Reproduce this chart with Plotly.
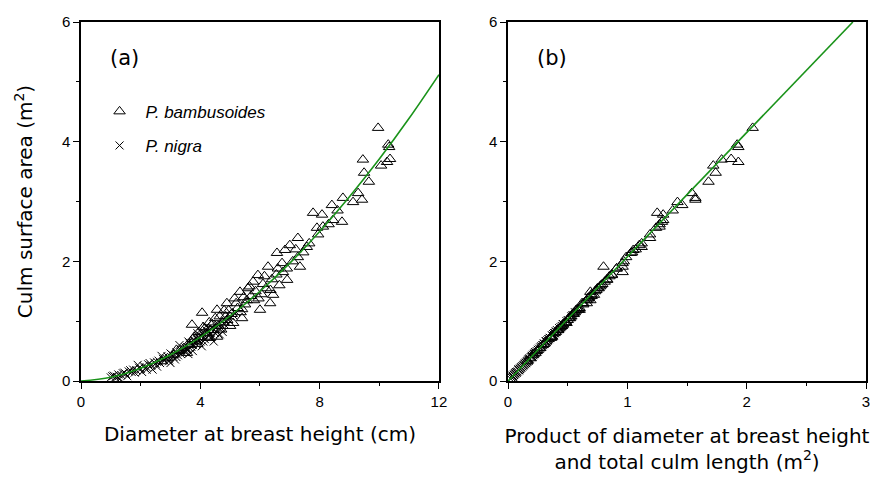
import plotly.graph_objects as go
from plotly.subplots import make_subplots

# ---------------------------------------------------------------------------
# Data
# ---------------------------------------------------------------------------
# P. bambusoides: DBH (cm), culm surface area (m2), DBH x culm length (m2)
bam_dbh = [9.96, 10.33, 10.30, 9.45, 9.49, 9.65, 10.06, 10.26, 10.36, 9.29,
           8.78, 9.12, 9.42, 7.78, 8.08, 8.41, 8.45, 8.75, 7.91, 8.11,
           7.27, 7.57, 7.00, 7.27, 7.34, 6.57, 6.84, 6.74, 6.77, 6.91,
           6.27, 5.93, 5.77, 6.44, 6.34, 6.00, 5.56, 5.33, 4.89, 4.56,
           4.06, 3.72, 5.10, 5.40, 4.32, 4.56, 3.55, 6.10, 6.20, 5.85,
           5.70, 5.50, 5.25, 5.05, 4.90, 4.75, 4.60, 4.45, 4.20, 4.00,
           3.85, 3.65, 3.45, 3.30, 3.10, 2.90, 2.70, 6.40, 6.55, 6.65,
           7.10, 7.45, 7.65, 7.95, 8.30, 8.60, 5.95, 5.60, 5.15, 4.80,
           4.30, 4.15, 3.95, 5.35, 6.05, 6.90, 7.20, 3.20, 3.75, 4.50,
           3.60, 3.80, 3.90, 4.10, 4.25, 4.40, 4.65, 4.70, 4.95, 5.00,
           5.20, 5.45, 5.65, 5.80, 6.15, 6.35, 6.60, 5.40, 4.85, 4.35]
bam_area = [4.23, 3.91, 3.95, 3.70, 3.48, 3.33, 3.60, 3.66, 3.71, 3.14,
            3.06, 2.99, 3.03, 2.81, 2.78, 2.94, 2.69, 2.66, 2.56, 2.58,
            2.39, 2.24, 2.27, 2.07, 1.91, 2.14, 2.19, 1.97, 1.82, 1.69,
            1.91, 1.77, 1.66, 1.44, 1.30, 1.19, 1.35, 1.49, 1.30, 1.19,
            1.14, 0.94, 0.97, 1.05, 0.72, 0.74, 0.47, 1.62, 1.55, 1.50,
            1.42, 1.28, 1.22, 1.12, 1.02, 0.98, 0.92, 0.85, 0.80, 0.73,
            0.66, 0.60, 0.55, 0.50, 0.44, 0.38, 0.33, 1.70, 1.78, 1.60,
            2.00, 2.15, 2.30, 2.45, 2.62, 2.85, 1.38, 1.55, 1.38, 1.18,
            0.98, 0.88, 0.82, 1.15, 1.45, 1.88, 2.20, 0.52, 0.70, 1.05,
            0.62, 0.74, 0.62, 0.90, 0.74, 0.95, 1.08, 0.86, 1.18, 0.92,
            1.30, 1.40, 1.58, 1.35, 1.75, 1.52, 1.88, 1.20, 1.08, 0.85]
bam_prod = [2.05, 1.93, 1.92, 1.79, 1.74, 1.68, 1.72, 1.93, 1.87, 1.54,
            1.57, 1.42, 1.57, 1.25, 1.30, 1.46, 1.30, 1.29, 1.24, 1.27,
            1.19, 1.12, 1.10, 0.99, 0.96, 1.03, 1.05, 0.96, 0.96, 0.83,
            0.80, 0.87, 0.81, 0.72, 0.66, 0.60, 0.69, 0.69, 0.62, 0.59,
            0.55, 0.46, 0.49, 0.52, 0.36, 0.37, 0.23, 0.79, 0.76, 0.73,
            0.70, 0.63, 0.60, 0.55, 0.50, 0.48, 0.45, 0.42, 0.39, 0.36,
            0.32, 0.29, 0.27, 0.24, 0.21, 0.19, 0.16, 0.83, 0.87, 0.78,
            0.97, 1.04, 1.12, 1.19, 1.27, 1.38, 0.67, 0.75, 0.67, 0.57,
            0.48, 0.43, 0.40, 0.56, 0.70, 0.91, 1.07, 0.25, 0.34, 0.51,
            0.30, 0.36, 0.30, 0.44, 0.36, 0.46, 0.53, 0.42, 0.57, 0.45,
            0.63, 0.68, 0.77, 0.66, 0.85, 0.74, 0.91, 0.58, 0.52, 0.41]

# P. nigra
nig_dbh = [1.00, 1.10, 1.20, 1.25, 1.35, 1.45, 1.50, 1.60, 1.70, 1.75,
           1.85, 1.95, 2.00, 2.10, 2.20, 2.25, 2.35, 2.45, 2.50, 2.60,
           2.65, 2.75, 2.80, 2.90, 2.95, 3.05, 3.10, 3.20, 3.25, 3.35,
           3.40, 3.50, 3.55, 3.65, 3.70, 3.80, 3.85, 3.95, 4.00, 4.10,
           4.15, 4.25, 4.30, 4.40, 4.50, 4.60, 4.70, 4.85, 5.00, 5.20,
           3.00, 3.60, 4.05, 4.45, 2.40, 1.90, 2.70, 3.30, 3.90, 4.20,
           1.30, 1.55, 2.05, 2.55, 3.15, 3.75, 4.35, 4.75,
           1.05, 1.15, 1.40, 1.65, 1.80, 2.15, 2.30, 2.55, 2.85, 3.00,
           3.20, 3.45, 3.50, 3.60, 3.75, 3.90, 4.00, 4.10, 4.20, 4.35,
           4.55, 4.65, 4.80, 4.95, 5.10, 3.35, 2.95, 2.20]
nig_area = [0.06, 0.09, 0.07, 0.11, 0.10, 0.14, 0.12, 0.16, 0.15, 0.19,
            0.18, 0.22, 0.20, 0.25, 0.23, 0.28, 0.26, 0.31, 0.29, 0.34,
            0.30, 0.37, 0.34, 0.41, 0.36, 0.44, 0.40, 0.48, 0.43, 0.52,
            0.47, 0.56, 0.52, 0.63, 0.57, 0.68, 0.62, 0.72, 0.66, 0.78,
            0.70, 0.83, 0.76, 0.88, 0.80, 0.95, 0.88, 1.00, 1.08, 1.15,
            0.30, 0.45, 0.58, 0.66, 0.19, 0.27, 0.42, 0.60, 0.80, 0.92,
            0.04, 0.08, 0.15, 0.24, 0.36, 0.50, 0.72, 0.82,
            0.08, 0.06, 0.13, 0.18, 0.14, 0.21, 0.30, 0.32, 0.38, 0.46,
            0.40, 0.54, 0.48, 0.66, 0.60, 0.70, 0.76, 0.66, 0.85, 0.80,
            0.90, 0.78, 0.95, 1.02, 1.10, 0.45, 0.33, 0.19]
nig_prod = [0.03, 0.04, 0.04, 0.05, 0.05, 0.07, 0.06, 0.08, 0.07, 0.09,
            0.09, 0.11, 0.10, 0.12, 0.11, 0.14, 0.13, 0.15, 0.14, 0.17,
            0.15, 0.18, 0.17, 0.20, 0.18, 0.21, 0.20, 0.23, 0.21, 0.25,
            0.23, 0.27, 0.25, 0.30, 0.28, 0.33, 0.30, 0.35, 0.32, 0.38,
            0.34, 0.40, 0.37, 0.43, 0.39, 0.46, 0.43, 0.49, 0.53, 0.56,
            0.15, 0.22, 0.28, 0.32, 0.09, 0.13, 0.20, 0.29, 0.39, 0.45,
            0.02, 0.04, 0.07, 0.12, 0.17, 0.24, 0.35, 0.40,
            0.04, 0.03, 0.06, 0.09, 0.07, 0.10, 0.15, 0.16, 0.18, 0.22,
            0.19, 0.26, 0.23, 0.32, 0.29, 0.34, 0.37, 0.32, 0.41, 0.39,
            0.44, 0.38, 0.46, 0.50, 0.54, 0.22, 0.16, 0.09]

# fitted curves as drawn (a: power curve, b: straight line)
fit_a_x = [0, 1, 2, 3, 4, 5, 6, 7, 8, 9, 10, 11, 12]
fit_a_y = [0, 0.063, 0.215, 0.44, 0.733, 1.088, 1.50, 1.97, 2.50, 3.08,
           3.71, 4.39, 5.12]
fit_b_x = [0, 2.89]
fit_b_y = [0, 6.0]

INK = "black"
GREEN = "#1a931a"
FONT = "Liberation Sans, Arial, sans-serif"
TITLE_FONT = "DejaVu Sans, sans-serif"

fig = make_subplots(rows=1, cols=2)

tri = dict(symbol="triangle-up-open", size=10, color=INK, line=dict(color=INK, width=1))
cross = dict(symbol="x-thin-open", size=8, color=INK, line=dict(color=INK, width=1))

for col, (bx, nx, fx, fy) in enumerate([(bam_dbh, nig_dbh, fit_a_x, fit_a_y),
                                        (bam_prod, nig_prod, fit_b_x, fit_b_y)], start=1):
    fig.add_trace(go.Scatter(x=nx, y=nig_area, mode="markers", marker=cross,
                             name="<i>P. nigra</i>", legendrank=2, legendgroup="n",
                             showlegend=(col == 1)), row=1, col=col)
    fig.add_trace(go.Scatter(x=bx, y=bam_area, mode="markers", marker=tri,
                             name="<i>P. bambusoides</i>", legendrank=1, legendgroup="b",
                             showlegend=(col == 1)), row=1, col=col)
    fig.add_trace(go.Scatter(x=fx, y=fy, mode="lines", showlegend=False,
                             line=dict(color=GREEN, width=1.6, shape="spline")),
                  row=1, col=col)

axis_common = dict(showline=True, linecolor=INK, linewidth=1.5, mirror=True,
                   ticks="outside", ticklen=6, tickwidth=1, tickcolor=INK,
                   showgrid=False, zeroline=False,
                   tickfont=dict(family=FONT, size=15, color=INK))

fig.update_xaxes(**axis_common)
fig.update_yaxes(**axis_common)

fig.update_xaxes(range=[0, 12], dtick=4, tick0=0, domain=[0, 0.456],
                 minor=dict(dtick=2, ticks="outside", ticklen=3, tickcolor=INK),
                 title=dict(text="Diameter at breast height (cm)",
                            font=dict(family=TITLE_FONT, size=20, color=INK),
                            standoff=18),
                 row=1, col=1)
fig.update_xaxes(range=[0, 3], dtick=1, tick0=0, domain=[0.544, 1],
                 minor=dict(dtick=0.5, ticks="outside", ticklen=3, tickcolor=INK),
                 title=dict(text="Product of diameter at breast height<br>and total culm length (m<sup>2</sup>)",
                            font=dict(family=TITLE_FONT, size=20, color=INK),
                            standoff=20),
                 row=1, col=2)
fig.update_yaxes(range=[0, 6], dtick=2, tick0=0,
                 minor=dict(dtick=1, ticks="outside", ticklen=3, tickcolor=INK))
fig.update_yaxes(title=dict(text="Culm surface area (m<sup>2</sup>)",
                            font=dict(family=TITLE_FONT, size=20, color=INK),
                            standoff=24),
                 row=1, col=1)

fig.update_layout(
    width=870, height=476,
    margin=dict(l=73, r=12, t=14, b=103, autoexpand=False),
    plot_bgcolor="white", paper_bgcolor="white",
    font=dict(family=FONT, color=INK),
    legend=dict(x=0.016, y=0.80, xanchor="left", yanchor="top",
                traceorder="grouped", tracegroupgap=9,
                font=dict(family=FONT, size=17, color=INK),
                bgcolor="rgba(0,0,0,0)", itemwidth=42),
)

fig.add_annotation(text="(a)", x=0.075, y=0.90, xref="x domain", yref="y domain",
                   xanchor="left", yanchor="middle", showarrow=False,
                   font=dict(family=TITLE_FONT, size=21, color=INK))
fig.add_annotation(text="(b)", x=0.075, y=0.90, xref="x2 domain", yref="y2 domain",
                   xanchor="left", yanchor="middle", showarrow=False,
                   font=dict(family=TITLE_FONT, size=21, color=INK))

fig.write_html("out.html")
